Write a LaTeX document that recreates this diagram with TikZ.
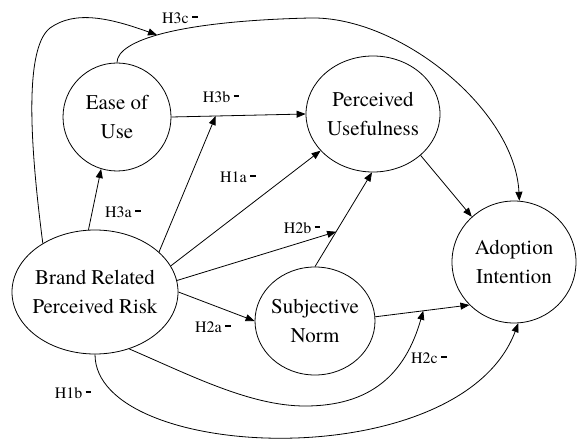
\documentclass[tikz,border=0pt]{standalone}
\usepackage{fontspec}
\setmainfont{TeX Gyre Termes}
\newfontfamily\tnr{TeX Gyre Termes}
\usetikzlibrary{arrows.meta,shapes.geometric,calc}
\newcommand{\hdash}{\hspace{3.5bp}\rule[5bp]{5.5bp}{2bp}}
\begin{document}
\begin{tikzpicture}[x=1bp,y=-1bp,
  every node/.style={inner sep=0pt},
  ctext/.style={font=\tnr\fontsize{21}{29}\selectfont, align=center},
  construct/.style={draw, ellipse, line width=0.8bp},
  hyp/.style={font=\tnr\fontsize{16}{20}\selectfont},
  link/.style={line width=0.8bp, -{Triangle[length=9bp,width=7bp]}}]
\useasboundingbox (0,0) rectangle (578,441);

% constructs
\node[construct, minimum width=108bp, minimum height=108bp,
  label={[ctext]center:Ease of\\Use}] (eou) at (117,117) {};
\node[construct, minimum width=134bp, minimum height=116bp,
  label={[ctext]center:Perceived\\Usefulness}] (pu) at (373,114) {};
\node[construct, minimum width=124bp, minimum height=122bp,
  label={[ctext]center:Adoption\\Intention}] (ai) at (514,262) {};
\node[construct, minimum width=120bp, minimum height=108bp,
  label={[ctext]center:Subjective\\Norm}] (sn) at (315,321) {};
\node[construct, minimum width=166bp, minimum height=124bp,
  label={[ctext]center:Brand Related\\Perceived Risk}] (br) at (95,292) {};

% points on paths where moderating arrows end
\coordinate (m3b) at ($(eou.0)!0.33!(pu.180)$);
\coordinate (m2b) at ($(sn.90)!0.37!(pu.269)$);
\coordinate (m2c) at ($(sn.4)!0.51!(ai.224)$);
\coordinate (m3c) at (157,35);

% direct paths
\draw[link] (br.96) -- (eou.253);
\draw[link] (eou.0) -- (pu.180);
\draw[link] (br.19) -- (pu.215);
\draw[link] (sn.90) -- (pu.269);
\draw[link] (br.0) -- (sn.180);
\draw[link] (sn.4) -- (ai.224);
\draw[link] (pu.319) -- (ai.133);
\draw[link] (eou.90) .. controls (117,40) and (180,21) .. (310,18)
  .. controls (400,16) and (515,110) .. (ai.85);
\draw[link] (br.270) .. controls (95,462) and (460,478) .. (ai.274);

% moderating paths
\draw[link] (br.32) -- (m3b);
\draw[link] (br.8) -- (m2b);
\draw[link] (br.301) .. controls (190,375) and (250,406) .. (305,406)
  .. controls (370,406) and (405,375) .. (m2c);
\draw[link] (br.137) .. controls (32,160) and (22,50) .. (50,28)
  .. controls (75,10) and (110,18) .. (m3c);

% labels
\node[hyp] (h3c) at (180,18) {H3c\hdash};
\node[hyp] (h3b) at (221,97) {H3b\hdash};
\node[hyp] (h1a) at (238,177) {H1a\hdash};
\node[hyp] (h3a) at (123,212) {H3a\hdash};
\node[hyp] (h2b) at (302,228) {H2b\hdash};
\node[hyp] (h2a) at (213,327) {H2a\hdash};
\node[hyp] (h2c) at (429,358) {H2c\hdash};
\node[hyp] (h1b) at (73,393) {H1b\hdash};
\end{tikzpicture}
\end{document}
